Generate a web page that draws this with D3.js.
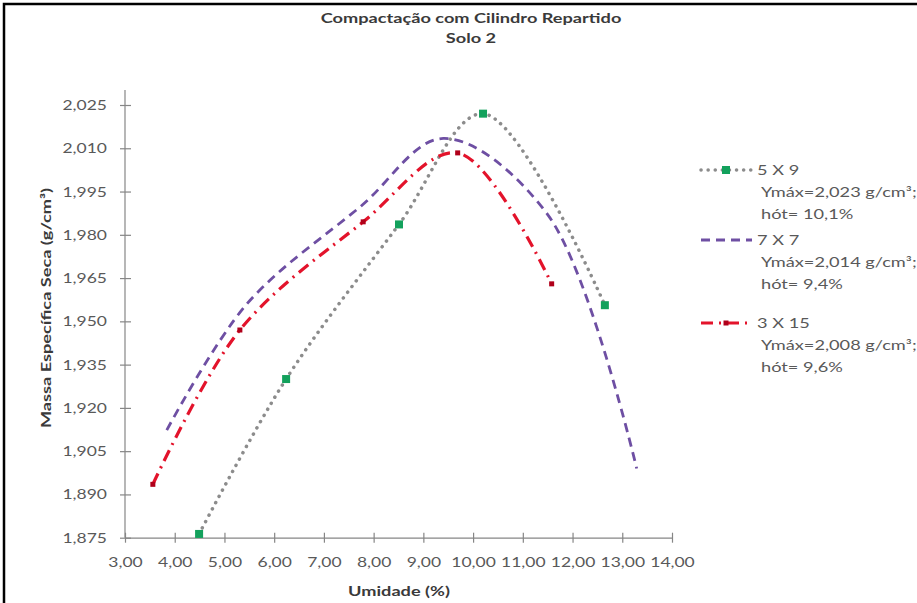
<!DOCTYPE html>
<html>
<head>
<meta charset="utf-8">
<script src="https://cdn.jsdelivr.net/npm/d3@7"></script>
<style>
  html, body { margin: 0; padding: 0; background: #fff; }
  svg { display: block; }
  text { font-family: Lato, "Open Sans", sans-serif; }
</style>
</head>
<body>
<svg id="chart" width="917" height="603"></svg>
<script>
// ---- data ----
const title1 = "Compactação com Cilindro Repartido";
const title2 = "Solo 2";
const xTitle = "Umidade (%)";
const yTitle = "Massa Específica Seca (g/cm³)";

const xTicks = [3, 4, 5, 6, 7, 8, 9, 10, 11, 12, 13, 14];
const yTicks = [1.875, 1.890, 1.905, 1.920, 1.935, 1.950, 1.965, 1.980, 1.995, 2.010, 2.025];

const s5x9_x = [4.49, 6.24, 8.51, 10.20, 12.65];
const s5x9_y = [1.8763, 1.9300, 1.9836, 2.0220, 1.9556];

const s7x7_x = [3.84, 5.45, 7.75, 9.40, 11.50, 13.29];
const s7x7_y = [1.9123, 1.9560, 1.9900, 2.0134, 1.9870, 1.8990];

const s3x15_x = [3.56, 5.31, 7.79, 9.69, 11.58];
const s3x15_y = [1.8935, 1.9470, 1.9845, 2.0084, 1.9630];

const legendNames = ["5 X 9", "7 X 7", "3 X 15"];
const legendLine2 = ["Ymáx=2,023 g/cm³;", "Ymáx=2,014 g/cm³;", "Ymáx=2,008 g/cm³;"];
const legendLine3 = ["hót= 10,1%", "hót= 9,4%", "hót= 9,6%"];

// ---- layout ----
const svg = d3.select("#chart");
const x = d3.scaleLinear().domain([3, 14]).range([125, 672]);
const y = d3.scaleLinear().domain([1.875, 2.025]).range([537.7, 105]);
const yTop = 90;
const axisColor = "#868686";
const labelColor = "#595959";
const titleColor = "#3a3a3a";
const K = 1.3;   // horizontal stretch of the reference's text

function sText(px, py, str, opts) {
  const t = svg.append("text")
    .attr("x", px / K).attr("y", py)
    .attr("transform", `scale(${K},1)`)
    .attr("font-size", opts.size || 14)
    .attr("fill", opts.fill || labelColor)
    .attr("text-anchor", opts.anchor || "start")
    .text(str);
  if (opts.bold) t.attr("font-weight", "bold");
  return t;
}

// outer border
svg.append("rect").attr("x", 4).attr("y", 4).attr("width", 920).attr("height", 610)
  .attr("fill", "none").attr("stroke", "#000").attr("stroke-width", 2.5);

// titles
sText(471, 23, title1, { size: 14, bold: true, anchor: "middle", fill: titleColor });
sText(471, 43, title2, { size: 14, bold: true, anchor: "middle", fill: titleColor });

// axes
const fmtX = d => d3.format(".2f")(d).replace(".", ",");
const fmtY = d => d3.format(".3f")(d).replace(".", ",");
const TK = 1.25;

const gx = svg.append("g").attr("transform", `translate(0,${y(1.875)})`)
  .call(d3.axisBottom(x).tickValues(xTicks).tickFormat(fmtX).tickSizeInner(5).tickSizeOuter(0).tickPadding(14));
gx.select(".domain").attr("stroke", axisColor).attr("stroke-width", 1.2);
gx.selectAll(".tick line").attr("stroke", axisColor).attr("y1", -5).attr("y2", 5).attr("stroke-width", 1.2);
gx.selectAll(".tick text").attr("fill", labelColor).attr("font-size", 14)
  .attr("font-family", "Lato, sans-serif").attr("transform", `scale(${TK},1)`);

const gy = svg.append("g").attr("transform", `translate(${x(3)},0)`)
  .call(d3.axisLeft(y).tickValues(yTicks).tickFormat(fmtY).tickSizeInner(5).tickSizeOuter(0).tickPadding(14));
gy.select(".domain").attr("stroke", axisColor).attr("stroke-width", 1.2)
  .attr("d", `M0,${yTop}V${y(1.875)}`);
gy.selectAll(".tick line").attr("stroke", axisColor).attr("x1", -5).attr("x2", 6).attr("stroke-width", 1.2);
gy.selectAll(".tick text").attr("fill", labelColor).attr("font-size", 14)
  .attr("font-family", "Lato, sans-serif")
  .attr("x", -18 / TK).attr("transform", `scale(${TK},1)`);

// axis titles
sText(399, 596, xTitle, { size: 14, bold: true, anchor: "middle", fill: titleColor });
svg.append("text").attr("transform", `translate(51,308) rotate(-90) scale(${K},1)`)
  .attr("text-anchor", "middle").attr("font-size", 14).attr("font-weight", "bold")
  .attr("fill", titleColor).text(yTitle);

// series
const series = [
  { xs: s5x9_x, ys: s5x9_y, color: "#8c8c8c", width: 3.5, dash: "0.1,7", cap: "round", marker: "#13a15c", msize: 8 },
  { xs: s7x7_x, ys: s7x7_y, color: "#6e4fa3", width: 2.8, dash: "9,6", cap: "butt", marker: null },
  { xs: s3x15_x, ys: s3x15_y, color: "#e3132b", width: 3.2, dash: "12,6,2,6", cap: "butt", marker: "#b0001a", msize: 5 }
];

const line = d3.line().x(d => x(d[0])).y(d => y(d[1])).curve(d3.curveCatmullRom.alpha(0.5));

series.forEach(s => {
  const pts = s.xs.map((v, i) => [v, s.ys[i]]);
  svg.append("path").datum(pts).attr("d", line)
    .attr("fill", "none").attr("stroke", s.color).attr("stroke-width", s.width)
    .attr("stroke-dasharray", s.dash).attr("stroke-linecap", s.cap);
  if (s.marker) {
    svg.append("g").selectAll("rect").data(pts).join("rect")
      .attr("x", d => x(d[0]) - s.msize / 2).attr("y", d => y(d[1]) - s.msize / 2)
      .attr("width", s.msize).attr("height", s.msize).attr("fill", s.marker);
  }
});

// legend
const legY = [170, 240, 323];
legendNames.forEach((name, i) => {
  const s = series[i];
  const ly = legY[i];
  svg.append("line").attr("x1", 701).attr("x2", 752).attr("y1", ly).attr("y2", ly)
    .attr("stroke", s.color).attr("stroke-width", s.width)
    .attr("stroke-dasharray", s.dash).attr("stroke-linecap", s.cap);
  if (s.marker) {
    svg.append("rect").attr("x", 726 - s.msize / 2).attr("y", ly - s.msize / 2)
      .attr("width", s.msize).attr("height", s.msize).attr("fill", s.marker);
  }
  sText(757, ly + 5, name, { size: 14 });
  sText(761, ly + 27, legendLine2[i], { size: 14 });
  sText(761, ly + 49, legendLine3[i], { size: 14 });
});
</script>
</body>
</html>
